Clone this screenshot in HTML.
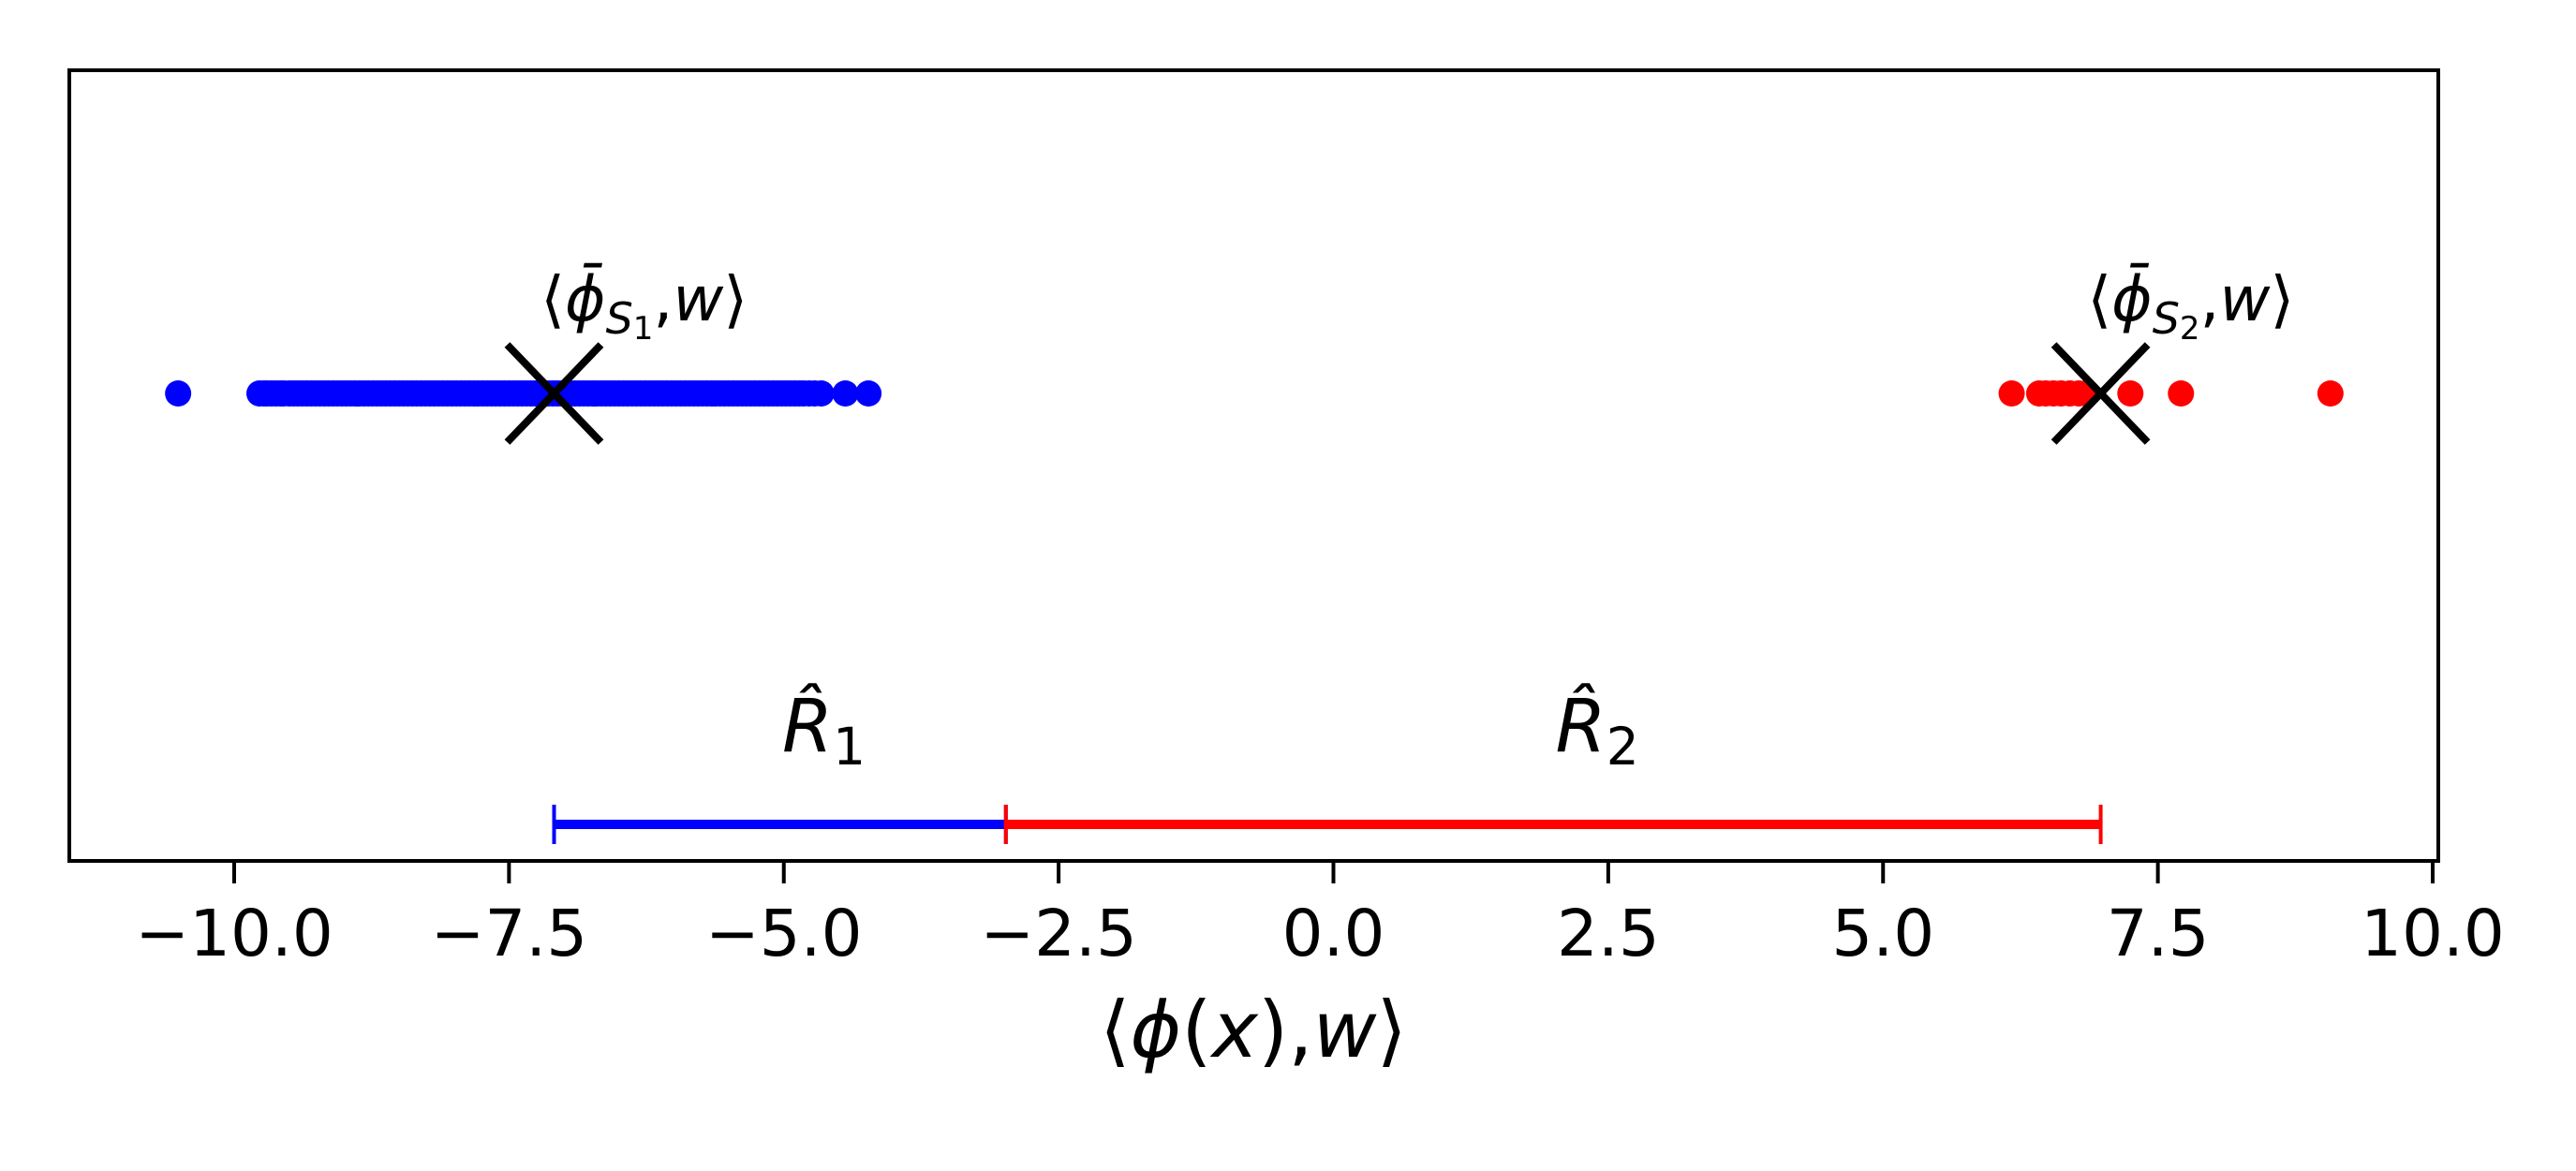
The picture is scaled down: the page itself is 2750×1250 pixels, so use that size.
<!DOCTYPE html>
<html><head><meta charset="utf-8"><style>
html,body{margin:0;padding:0;background:#fff;}
svg{display:block;}
text{font-family:"DejaVu Sans","Liberation Sans",sans-serif;}
</style></head><body>
<svg id="chart" width="2750" height="1250" viewBox="0 0 2750 1250" xmlns="http://www.w3.org/2000/svg">
<rect width="2750" height="1250" fill="#fff"/>
<g id="marks"></g>
<rect x="74" y="75" width="2529" height="844" fill="none" stroke="#000" stroke-width="4"/>
<g id="ticks"></g>
<text x="1338" y="1128" font-size="83" text-anchor="middle">⟨<tspan font-style="italic">ϕ</tspan>(<tspan font-style="italic">x</tspan>),<tspan font-style="italic">w</tspan>⟩</text>
</svg>
<script>
const tickValues = [-10, -7.5, -5, -2.5, 0, 2.5, 5, 7.5, 10];
const tickLabels = ["−10.0", "−7.5", "−5.0", "−2.5", "0.0", "2.5", "5.0", "7.5", "10.0"];
const blueValues = [-10.51, -9.77, -9.73, -9.7, -9.66, -9.62, -9.58, -9.55, -9.5, -9.46, -9.42, -9.38, -9.34, -9.3, -9.26, -9.22, -9.18, -9.14, -9.1, -9.06, -9.02, -8.98, -8.94, -8.9, -8.86, -8.82, -8.78, -8.74, -8.7, -8.66, -8.62, -8.58, -8.54, -8.5, -8.46, -8.42, -8.38, -8.34, -8.3, -8.26, -8.22, -8.18, -8.14, -8.1, -8.06, -8.02, -7.98, -7.94, -7.9, -7.86, -7.82, -7.78, -7.74, -7.7, -7.66, -7.62, -7.58, -7.54, -7.5, -7.46, -7.42, -7.38, -7.34, -7.3, -7.26, -7.22, -7.18, -7.14, -7.1, -7.06, -7.02, -6.98, -6.94, -6.9, -6.86, -6.82, -6.78, -6.74, -6.7, -6.66, -6.62, -6.58, -6.54, -6.5, -6.46, -6.42, -6.38, -6.34, -6.3, -6.26, -6.22, -6.18, -6.14, -6.1, -6.06, -6.02, -5.98, -5.94, -5.9, -5.86, -5.82, -5.78, -5.74, -5.7, -5.66, -5.62, -5.58, -5.54, -5.5, -5.46, -5.42, -5.38, -5.34, -5.3, -5.26, -5.22, -5.18, -5.14, -5.1, -5.06, -5.02, -4.98, -4.94, -4.9, -4.86, -4.82, -4.77, -4.72, -4.66, -4.44, -4.23];
const redValues = [6.17, 6.42, 6.48, 6.55, 6.62, 6.7, 6.78, 6.85, 7.25, 7.71, 9.07];
const centerValues = [-7.09, 6.98];
const centerSubs = ["1", "2"];
const regionStarts = [-7.09, -2.98];
const regionEnds = [-2.98, 6.98];
const regionLabels = ["1", "2"];
const regionColors = ["#0000ff", "#ff0000"];

const X0 = 1423.5, PX = 117.35;
function xs(v){ return X0 + v * PX; }
const NS = "http://www.w3.org/2000/svg";
function mk(tag, attrs, parent){ const e = document.createElementNS(NS, tag); for (const k in attrs) e.setAttribute(k, attrs[k]); parent.appendChild(e); return e; }
const marks = document.getElementById('marks');
const ticks = document.getElementById('ticks');
const DOTY = 420, BARY = 880;

tickValues.forEach((v, i) => {
  const t = mk('line', {x1: xs(v), x2: xs(v), y1: 919, y2: 943, stroke: '#000', 'stroke-width': 4}, ticks);
  
  
  const l = mk('text', {x: xs(v), y: 1020, 'font-size': 69, 'text-anchor': 'middle'}, ticks);
  l.textContent = tickLabels[i];
  
  
});

blueValues.forEach(v => {
  const c = mk('circle', {cx: xs(v), cy: DOTY, r: 14, fill: '#0000ff'}, marks);
  
  
});
redValues.forEach(v => {
  const c = mk('circle', {cx: xs(v), cy: DOTY, r: 14, fill: '#ff0000'}, marks);
  
  
});

centerValues.forEach((v, i) => {
  const g = mk('g', {}, marks);
  
  
  const x = xs(v);
  mk('line', {x1: x - 50, y1: DOTY - 52, x2: x + 50, y2: DOTY + 52, stroke: '#000', 'stroke-width': 8}, g);
  mk('line', {x1: x - 50, y1: DOTY + 52, x2: x + 50, y2: DOTY - 52, stroke: '#000', 'stroke-width': 8}, g);
  const t = mk('text', {x: xs(v + 0.82), y: 342, 'font-size': 66, 'text-anchor': 'middle'}, marks);
  t.innerHTML = '⟨<tspan font-style="italic">ϕ̄</tspan><tspan font-style="italic" font-size="46" dy="14">S</tspan><tspan font-size="34" dy="6">' + centerSubs[i] + '</tspan><tspan dy="-20">,</tspan><tspan font-style="italic">w</tspan>⟩';
  
  
});

regionStarts.forEach((s, i) => {
  const e = regionEnds[i], col = regionColors[i];
  const g = mk('g', {}, marks);
  
  
  mk('line', {x1: xs(s), x2: xs(e), y1: BARY, y2: BARY, stroke: col, 'stroke-width': 10}, g);
  mk('line', {x1: xs(s), x2: xs(s), y1: BARY - 21, y2: BARY + 21, stroke: col, 'stroke-width': 4}, g);
  mk('line', {x1: xs(e), x2: xs(e), y1: BARY - 21, y2: BARY + 21, stroke: col, 'stroke-width': 4}, g);
  const t = mk('text', {x: xs((s + e) / 2 + 0.4), y: 802, 'font-size': 78, 'text-anchor': 'middle'}, marks);
  t.innerHTML = '<tspan font-style="italic">R̂</tspan><tspan font-size="55" dy="14">' + regionLabels[i] + '</tspan>';
  
  
});
</script>
</body></html>
